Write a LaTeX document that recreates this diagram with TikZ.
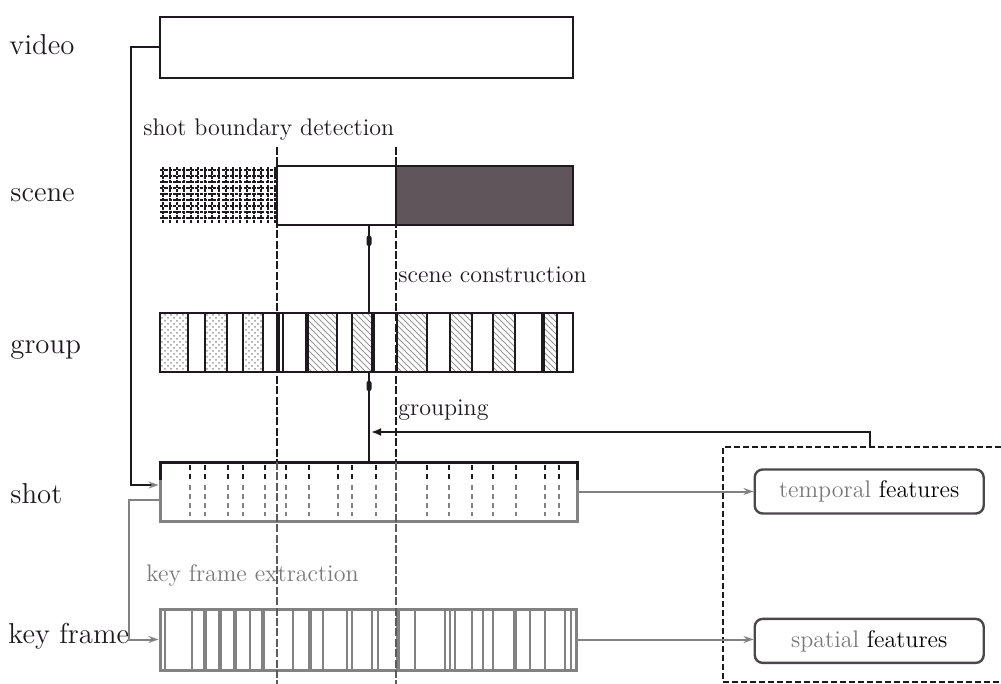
\documentclass[tikz,border=0pt]{standalone}
\usepackage{tikz}
\usetikzlibrary{arrows.meta, positioning, patterns}
\definecolor{inkblack}{RGB}{30,25,30}
\definecolor{midgray}{RGB}{130,130,130}
\definecolor{txtgray}{RGB}{120,120,120}
\definecolor{scenefill}{RGB}{95,85,90}
\definecolor{hatchgray}{RGB}{150,150,150}
\tikzset{
  barbox/.style={
    draw=inkblack, line width=1.3pt, inner sep=0pt
  },
  graybar/.style={
    draw=midgray, line width=1.5pt, inner sep=0pt
  },
  featbox/.style={
    draw=inkblack!80, line width=1.2pt, rounded corners=4pt,
    minimum width=114.5pt, minimum height=22pt, inner sep=0pt,
    font=\large
  },
  rowlabel/.style={
    anchor=west, font=\Large, text=inkblack, inner sep=0pt
  },
  steplabel/.style={
    anchor=west, font=\large, text=inkblack, inner sep=0pt
  },
  meshline/.style={
    draw=inkblack, line width=0.7pt, dash pattern=on 1.6pt off 0.6pt
  },
  cutline/.style={
    line width=1pt, dash pattern=on 4pt off 1.2pt
  },
  shotdiv/.style={
    line width=1pt, dash pattern=on 2.5pt off 2pt
  },
  linkblack/.style={
    draw=inkblack, line width=1pt,
    -{Stealth[length=5pt,width=3.5pt,color=midgray]}
  },
  linkgray/.style={
    draw=midgray, line width=1pt,
    -{Stealth[length=5pt,width=3.5pt]}
  },
  linkthick/.style={
    draw=inkblack, line width=1.3pt
  },
  dotmark/.style={
    fill=inkblack, rounded corners=1pt, inner sep=0pt,
    minimum width=2.5pt, minimum height=5pt
  },
  grouparrow/.style={
    draw=inkblack, line width=1.1pt,
    -{Latex[length=5pt,width=4pt]}
  },
}
\begin{document}
\begin{tikzpicture}[x=0.5pt, y=-0.5pt]
  \useasboundingbox (0,0) rectangle (1001,684);

  %% row labels
  \node[rowlabel] (lvid) at (9,45) {video};
  \node[rowlabel] (lsc) at (10,195) {scene};
  \node[rowlabel] (lgr) at (10,350) {group};
  \node[rowlabel] (lsh) at (10,494) {shot};
  \node[rowlabel] (lkf) at (8,636) {key frame};

  %% video
  \node[barbox, minimum width=206.5pt, minimum height=30.5pt] (vid) at (366.5,47.5) {};

  \node[steplabel] (sbd) at (143,130) {shot boundary detection};

  %% scene
  \foreach \x in {163,170,...,275}
    \draw[meshline] (\x,167) -- (\x,224);
  \foreach \y in {170,176,...,222}
    \draw[meshline] (160,\y) -- (276,\y);
  \node[barbox, minimum width=59.5pt, minimum height=29.5pt] (scB) at (336.5,195.5) {};
  \node[barbox, fill=scenefill, minimum width=88.5pt, minimum height=29.5pt] (scC) at (484.5,195.5) {};

  \node[steplabel] (scn) at (398,275) {scene construction};

  %% group
  \foreach \a/\b in {160/188, 205/227, 243/263}
    \fill[pattern=crosshatch dots, pattern color=hatchgray] (\a,313) rectangle (\b,372);
  \foreach \a/\b in {307/337, 352/373, 397/427, 450/472, 493/515, 543/557}
    \fill[pattern=north west lines, pattern color=hatchgray] (\a,313) rectangle (\b,372);
  \node[barbox, minimum width=206.5pt, minimum height=29.5pt] (grp) at (366.5,342.5) {};
  \foreach \x/\w in {188/1.2pt, 205/1.2pt, 227/1.2pt, 243/1.2pt, 263/1.2pt, 278/2pt,
                     283/1.2pt, 307/2pt, 337/1.2pt, 352/1.2pt, 373/2pt, 397/1.2pt,
                     427/1.2pt, 450/1.2pt, 472/1.2pt, 493/1.2pt, 515/1.2pt, 543/2pt, 557/1.2pt}
    \draw[draw=inkblack, line width=\w] (\x,313) -- (\x,372);

  \node[steplabel] (grpl) at (398,410) {grouping};

  %% shot
  \node[graybar, minimum width=208.5pt, minimum height=29.5pt] (sht) at (368.5,491.5) {};
  \draw[inkblack, line width=1.5pt] (160,480) -- (160,462) -- (577,462) -- (577,480);
  \foreach \x in {190,205,228,243,265,286,309,338,352,376,427,449,472,493,516,545,559} {
    \draw[shotdiv, inkblack] (\x,465) -- (\x,482);
    \draw[shotdiv, midgray] (\x,485) -- (\x,516);
  }

  \node[steplabel, text=txtgray] (kfe) at (146,575) {key frame extraction};

  %% key frame
  \node[graybar, minimum width=208pt, minimum height=30.5pt] (kf) at (368,639.5) {};
  \foreach \x/\w in {165/1pt, 192/1.2pt, 205/2pt, 220/2pt, 235/1.6pt, 250/1.2pt, 263/2pt,
                     293/1.2pt, 310/1.6pt, 323/1.2pt, 347/1.2pt, 352/1.2pt, 372/1.2pt,
                     378/1.2pt, 398/2pt, 415/1.2pt, 445/1.2pt, 450/1.2pt, 455/1.2pt,
                     472/1.2pt, 483/1.2pt, 493/1.2pt, 515/1.6pt, 530/1.2pt, 545/1.2pt,
                     565/1.2pt, 571/1pt}
    \draw[draw=midgray, line width=\w] (\x,610) -- (\x,669);

  %% shot boundaries
  \foreach \x in {277,396} {
    \draw[cutline, inkblack] (\x,147) -- (\x,462);
    \draw[cutline, midgray!70!black] (\x,462) -- (\x,684);
  }

  %% features
  \node[featbox, right=87.5pt of sht] (tf) {\textcolor{txtgray}{temporal} features};
  \node[featbox, below=51.5pt of tf] (sf) {\textcolor{txtgray}{spatial} features};
  \draw[inkblack, line width=1.1pt, dash pattern=on 3pt off 1.5pt]
    (1001,447) -- (723,447) -- (723,682) -- (1001,682);

  %% connectors
  \coordinate (lnk) at (369,0);
  \coordinate (gtap) at (870,447);
  \coordinate (gjoin) at (371,432);
  \draw[linkblack] (vid.west) -- ++(-28,0) |- ([yshift=3.25pt]sht.west);
  \draw[linkgray] ([yshift=-4.25pt]sht.west) -- ++(-30,0) |- (kf.west);
  \draw[linkthick] (scB.south -| lnk) -- (grp.north -| lnk) node[pos=0.17, dotmark] {};
  \draw[linkthick] (grp.south -| lnk) -- (sht.north -| lnk) node[pos=0.145, dotmark] {};
  \draw[grouparrow] (gtap) |- (gjoin);
  \draw[linkgray] (sht.east) -- (tf.west);
  \draw[linkgray] (kf.east) -- (kf.east -| sf.west);

\end{tikzpicture}
\end{document}
